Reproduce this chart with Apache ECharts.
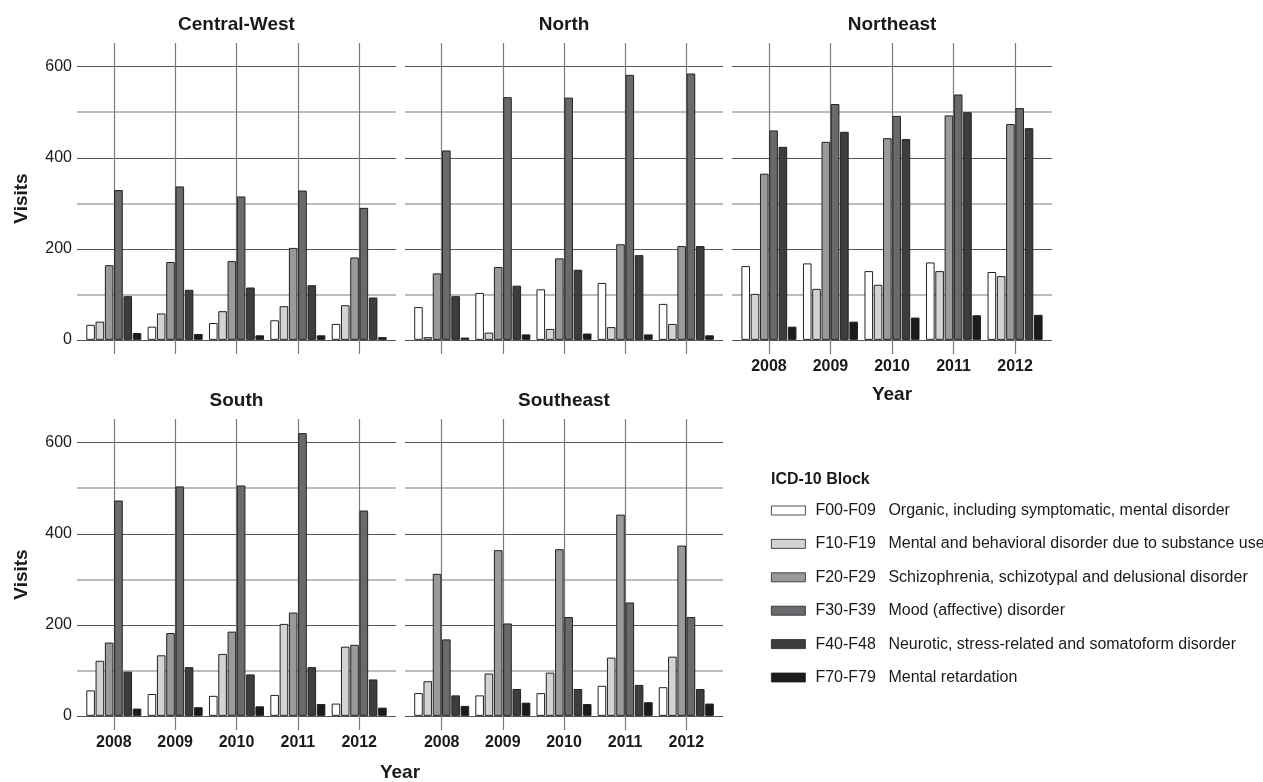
<!DOCTYPE html>
<html>
<head>
<meta charset="utf-8">
<title>Mental health visits by region and ICD-10 block</title>
<script src="https://cdn.jsdelivr.net/npm/echarts@6/dist/echarts.min.js"></script>
<style>
  html, body { margin: 0; padding: 0; background: #ffffff; }
  #chart { width: 1263px; height: 782px; }
</style>
</head>
<body>
<div id="chart"></div>
<script>
// ---- data -------------------------------------------------------------
const years = ['2008', '2009', '2010', '2011', '2012'];
const regions = ['Central-West', 'North', 'Northeast', 'South', 'Southeast'];
const blockCodes = ['F00-F09', 'F10-F19', 'F20-F29', 'F30-F39', 'F40-F48', 'F70-F79'];
const blockNames = [
  'Organic, including symptomatic, mental disorder',
  'Mental and behavioral disorder due to substance use',
  'Schizophrenia, schizotypal and delusional disorder',
  'Mood (affective) disorder',
  'Neurotic, stress-related and somatoform disorder',
  'Mental retardation'
];
const yTicks = [0, 200, 400, 600];
const yMinorTicks = [100, 300, 500];

// rows follow blockCodes, columns follow years
const centralWest = [
  [33, 29, 37, 43, 35],
  [40, 58, 63, 74, 76],
  [164, 171, 173, 202, 181],
  [329, 337, 315, 328, 290],
  [96, 110, 115, 120, 93],
  [15, 13, 10, 10, 6]
];
const north = [
  [72, 103, 111, 125, 79],
  [6, 16, 24, 28, 35],
  [146, 160, 179, 210, 206],
  [416, 533, 532, 582, 585],
  [96, 119, 154, 186, 206],
  [5, 12, 14, 12, 10]
];
const northeast = [
  [162, 168, 151, 170, 149],
  [101, 112, 121, 151, 140],
  [365, 435, 443, 493, 474],
  [460, 518, 492, 539, 509],
  [424, 457, 441, 500, 465],
  [29, 40, 49, 54, 55]
];
const south = [
  [56, 48, 44, 46, 27],
  [121, 133, 136, 202, 152],
  [161, 182, 185, 227, 156],
  [473, 504, 506, 621, 451],
  [97, 107, 91, 107, 80],
  [16, 19, 21, 26, 18]
];
const southeast = [
  [50, 45, 50, 66, 63],
  [76, 93, 95, 128, 130],
  [312, 364, 366, 442, 374],
  [168, 203, 217, 249, 217],
  [45, 59, 59, 68, 59],
  [22, 29, 26, 30, 27]
];
const regionData = [centralWest, north, northeast, south, southeast];

// ---- styling / layout -------------------------------------------------
const FONT = '"Liberation Sans", Arial, Helvetica, sans-serif';
const INK = '#1a1a1a';
const blockColors = ['#ffffff', '#d3d3d3', '#9a9a9d', '#6a6a6e', '#3d3d3d', '#1d1a1a'];
const panelLeft = [77, 405, 732, 77, 405];
const panelWidth = [319, 318, 320, 319, 318];
const panelTop = [43, 43, 43, 419, 419];
const panelHeight = 311;
const showYLabels = [true, false, false, true, false];
const showXLabels = [false, false, true, true, true];

// y range padded by 5% on both sides of the data range
const dataMax = Math.max(...regionData.flat(2));
const yMax = dataMax * 1.05;
const yMin = -dataMax * 0.05;
const xPositions = years.map((_, i) => i + 1);

const grids = [];
const xAxes = [];
const yAxes = [];
const series = [];

regions.forEach((region, p) => {
  grids.push({
    left: panelLeft[p], top: panelTop[p],
    width: panelWidth[p], height: panelHeight
  });
  xAxes.push({
    type: 'value', gridIndex: p, min: 0.4, max: 5.6,
    axisLine: { show: false },
    axisTick: { show: true, customValues: xPositions, length: 3,
                lineStyle: { color: '#7a7a7a', width: 1 } },
    axisLabel: {
      show: showXLabels[p], customValues: xPositions, margin: 5,
      formatter: v => years[Math.round(v) - 1],
      fontFamily: FONT, fontSize: 16, fontWeight: 'bold', color: INK
    },
    splitLine: { show: true, lineStyle: { color: '#7a7a7a', width: 1.2 } }
  });
  // major gridlines and labels
  yAxes.push({
    type: 'value', gridIndex: p, min: yMin, max: yMax, position: 'left',
    axisLine: { show: false },
    axisTick: { show: false, customValues: yTicks },
    axisLabel: {
      show: showYLabels[p], customValues: yTicks, margin: 5,
      fontFamily: FONT, fontSize: 16, color: INK
    },
    splitLine: { show: true, lineStyle: { color: '#555555', width: 1.1 } }
  });
  // minor gridlines
  yAxes.push({
    type: 'value', gridIndex: p, min: yMin, max: yMax,
    axisLine: { show: false },
    axisTick: { show: false, customValues: yMinorTicks },
    axisLabel: { show: false, customValues: yMinorTicks },
    splitLine: { show: true, lineStyle: { color: '#a6a6a6', width: 1.5 } }
  });

  blockCodes.forEach((code, k) => {
    series.push({
      type: 'bar',
      name: code,
      xAxisIndex: p,
      yAxisIndex: 2 * p,
      barWidth: 8.6,
      barGap: '8%',
      data: years.map((_, j) => [j + 1, regionData[p][k][j]]),
      itemStyle: { color: blockColors[k], borderColor: '#222222', borderWidth: 1 },
      emphasis: { disabled: true }
    });
  });
});

// ---- free-standing text -----------------------------------------------
function label(text, x, y, size, rotate) {
  return {
    type: 'text', x: x, y: y, rotation: rotate ? Math.PI / 2 : 0,
    style: {
      text: text, fill: INK, textAlign: 'center', textVerticalAlign: 'middle',
      font: 'bold ' + size + 'px ' + FONT
    }
  };
}
const graphics = [];
regions.forEach((region, p) => {
  const cx = panelLeft[p] + panelWidth[p] / 2;
  const cy = panelTop[p] - 18;
  graphics.push(label(region, cx, cy, 19));
});
graphics.push(label('Visits', 22, panelTop[0] + panelHeight / 2, 19, true));
graphics.push(label('Visits', 22, panelTop[3] + panelHeight / 2, 19, true));
graphics.push(label('Year', panelLeft[2] + panelWidth[2] / 2, 395, 19));
graphics.push(label('Year', (panelLeft[3] + panelLeft[4] + panelWidth[4]) / 2, 773, 19));
graphics.push({
  type: 'text', x: 771, y: 480,
  style: { text: 'ICD-10 Block', fill: INK, textAlign: 'left', textVerticalAlign: 'middle',
           font: 'bold 16px ' + FONT }
});

const chart = echarts.init(document.getElementById('chart'));
chart.setOption({
  backgroundColor: '#ffffff',
  animation: false,
  grid: grids,
  xAxis: xAxes,
  yAxis: yAxes,
  series: series,
  legend: {
    data: blockCodes,
    orient: 'vertical',
    left: 771, top: 502,
    padding: 0,
    itemWidth: 34, itemHeight: 9, itemGap: 16.4,
    selectedMode: false,
    icon: 'rect',
    itemStyle: { borderWidth: 0.8 },
    formatter: name => '{c|' + name + '}' + blockNames[blockCodes.indexOf(name)],
    textStyle: {
      fontFamily: FONT, fontSize: 16, color: INK, lineHeight: 17,
      rich: { c: { width: 73, padding: [0, 0, 0, 5], fontFamily: FONT, fontSize: 16, color: INK } }
    }
  },
  graphic: graphics
});
</script>
</body>
</html>
